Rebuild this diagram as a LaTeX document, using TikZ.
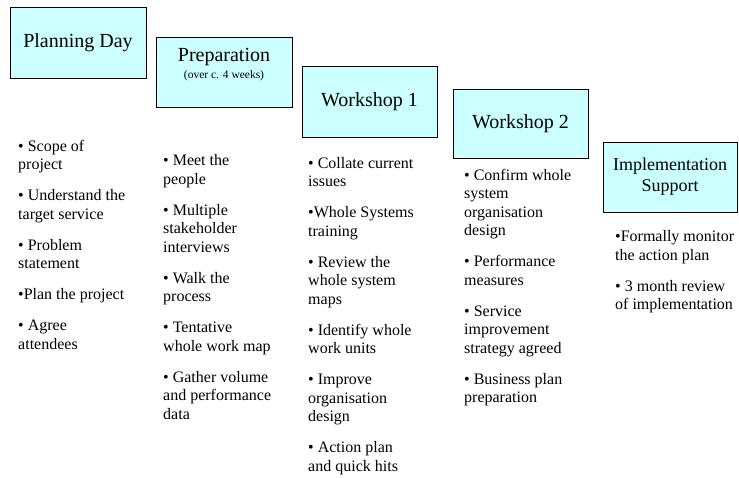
\documentclass[tikz,border=0pt]{standalone}
\usepackage{fontspec}
\setmainfont{Liberation Serif}
\definecolor{boxfill}{RGB}{204,255,255}
\tikzset{
  phase/.style={draw=black, line width=0.9pt, fill=boxfill, inner sep=0pt, align=center, font=\fontsize{20}{22}\selectfont},
  col/.style={anchor=base west, inner sep=0pt, align=left, font=\fontsize{16}{18.5}\selectfont},
}
\begin{document}
\begin{tikzpicture}[x=1pt,y=-1pt]
\useasboundingbox (0,0) rectangle (739,478);
% phase boxes
\node[phase, minimum width=136pt, minimum height=71pt] (b1) at (78,42.5) {Planning Day};
\node[phase, minimum width=136pt, minimum height=70pt] (b2) at (224,72) {};
\node[font=\fontsize{20}{22}\selectfont, inner sep=0pt] (b2t) at (224,57) {Preparation};
\node[font=\fontsize{11.5}{13}\selectfont, inner sep=0pt] (b2s) at (224,75.5) {(over c. 4 weeks)};
\node[phase, minimum width=135pt, minimum height=71pt] (b3) at (369.5,101.5) {Workshop 1};
\node[phase, minimum width=135pt, minimum height=69pt] (b4) at (520.5,123.5) {Workshop 2};
\node[phase, minimum width=134pt, minimum height=70pt, font=\fontsize{18}{21}\selectfont] (b5) at (670,177) {Implementation\\Support};
% bullet columns (anchor = baseline of last line)
\node[col] (c1) at (18,349) {• Scope of\\project\\[12.5pt]• Understand the\\target service\\[12.5pt]• Problem\\statement\\[12.5pt]•Plan the project\\[12.5pt]• Agree\\attendees};
\node[col] (c2) at (163,419) {• Meet the\\people\\[12.5pt]• Multiple\\stakeholder\\interviews\\[12.5pt]• Walk the\\process\\[12.5pt]• Tentative\\whole work map\\[12.5pt]• Gather volume\\and performance\\data};
\node[col] (c3) at (308,471) {• Collate current\\issues\\[12.5pt]•Whole Systems\\training\\[12.5pt]• Review the\\whole system\\maps\\[12.5pt]• Identify whole\\work units\\[12.5pt]• Improve\\organisation\\design\\[12.5pt]• Action plan\\and quick hits};
\node[col] (c4) at (464,402.5) {• Confirm whole\\system\\organisation\\design\\[12.5pt]• Performance\\measures\\[12.5pt]• Service\\improvement\\strategy agreed\\[12.5pt]• Business plan\\preparation};
\node[col] (c5) at (615,310) {•Formally monitor\\the action plan\\[12.5pt]• 3 month review\\of implementation};
\end{tikzpicture}
\end{document}
